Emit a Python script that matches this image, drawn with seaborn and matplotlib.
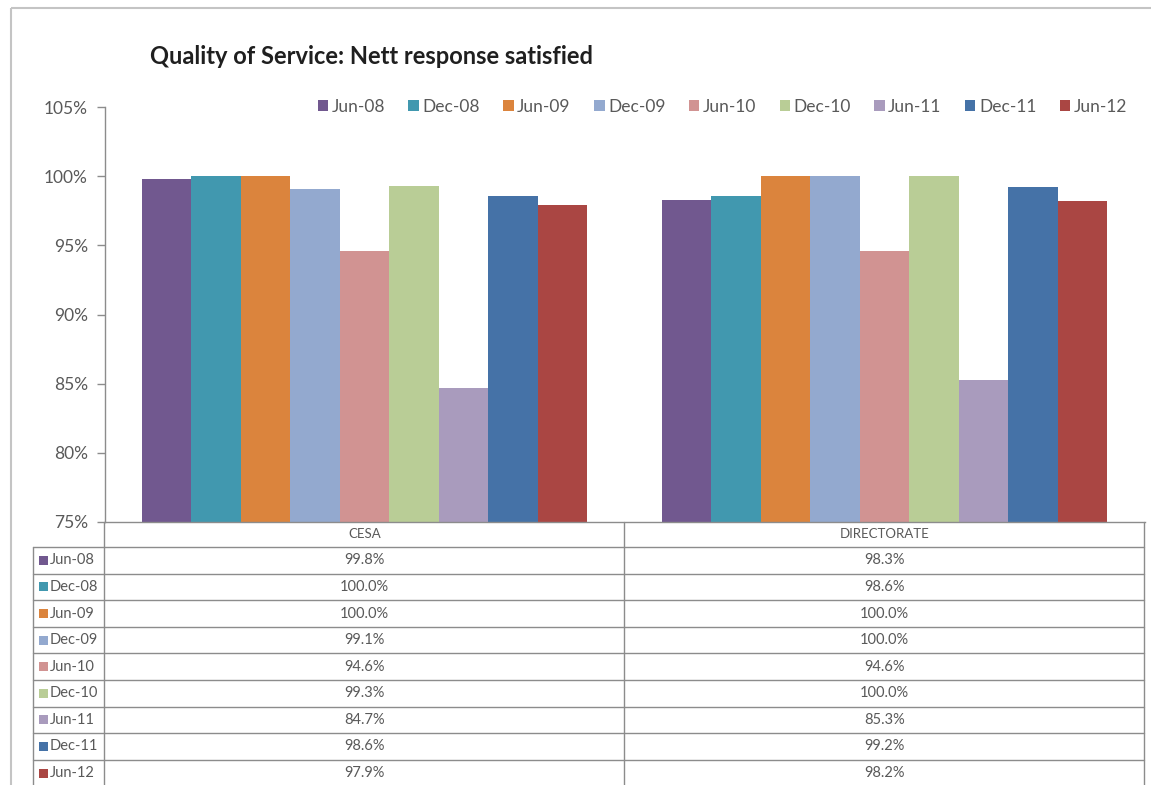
import matplotlib
matplotlib.use("Agg")
import matplotlib.pyplot as plt
import matplotlib.transforms as mtransforms
from matplotlib.patches import Rectangle
from matplotlib.ticker import FuncFormatter
import pandas as pd
import seaborn as sns

# ---- data -------------------------------------------------------------
units = ["CESA", "DIRECTORATE"]
periods = ["Jun-08", "Dec-08", "Jun-09", "Dec-09", "Jun-10",
           "Dec-10", "Jun-11", "Dec-11", "Jun-12"]
cesa_values = [99.8, 100.0, 100.0, 99.1, 94.6, 99.3, 84.7, 98.6, 97.9]
directorate_values = [98.3, 98.6, 100.0, 100.0, 94.6, 100.0, 85.3, 99.2, 98.2]
period_colors = ["#71588F", "#4198AF", "#DB843D", "#93A9CF", "#D19392",
                 "#B9CD96", "#A99BBD", "#4572A7", "#AA4643"]
y_ticks = [75, 80, 85, 90, 95, 100, 105]
title = "Quality of Service: Nett response satisfied"

df = pd.DataFrame({
    "unit": [u for u in units for _ in periods],
    "period": periods * len(units),
    "value": cesa_values + directorate_values,
})
table_values = {"CESA": cesa_values, "DIRECTORATE": directorate_values}

# ---- figure -----------------------------------------------------------
sns.set_theme(style="white")
plt.rcParams["font.family"] = ["Lato", "DejaVu Sans"]

W, H = 1151, 785
fig = plt.figure(figsize=(W / 100, H / 100), dpi=100, facecolor="white")

grid_col = "#8c8c8c"
text_col = "#595959"

# plot area in pixel units
left, right, top, bottom = 104.5, 1144.5, 107, 522
ax = fig.add_axes([left / W, 1 - bottom / H, (right - left) / W, (bottom - top) / H])

sns.barplot(data=df, x="unit", y="value", hue="period", order=units,
            hue_order=periods, palette=period_colors, saturation=1,
            width=0.856, linewidth=0, errorbar=None, ax=ax)

ax.set_xlim(-0.5, len(units) - 0.5)
ax.set_ylim(y_ticks[0], y_ticks[-1])
ax.set_yticks(y_ticks)
ax.yaxis.set_major_formatter(FuncFormatter(lambda v, _: f"{v:.0f}%"))
ax.tick_params(axis="y", which="major", direction="out", length=6, width=1,
               color=grid_col, labelsize=12.5, labelcolor=text_col, pad=6, left=True)
ax.tick_params(axis="x", bottom=False, labelbottom=False)
ax.set_xlabel("")
ax.set_ylabel("")
for s in ("top", "right"):
    ax.spines[s].set_visible(False)
for s in ("left", "bottom"):
    ax.spines[s].set_color(grid_col)
    ax.spines[s].set_linewidth(1)

handles, labels = ax.get_legend_handles_labels()
legend_right = 1127
ax.legend(handles, labels, ncol=len(periods), loc="center right",
          bbox_to_anchor=((legend_right - left) / (right - left), 1.0),
          bbox_transform=ax.transAxes, frameon=False, fontsize=12.5,
          handlelength=0.6, handleheight=0.6, handletextpad=0.2,
          columnspacing=1.35, labelcolor=text_col, borderaxespad=0,
          borderpad=0)

# ---- overlay in pixel coordinates (frame, title, data table) ----------
ov = fig.add_axes([0, 0, 1, 1], facecolor="none")
ov.set_xlim(0, W)
ov.set_ylim(H, 0)
ov.axis("off")

# chart frame
ov.plot([11, 11], [8, H], color="#c4c4c4", lw=1.5, solid_capstyle="butt")
ov.plot([11, W], [8, 8], color="#c4c4c4", lw=1.5, solid_capstyle="butt")

ov.text(150, 57, title, fontsize=17, fontweight="bold", color="#1f1f1f",
        ha="left", va="center")

# data table under the category axis
tbl_left = 33
header_bottom = 547
row_h = 26.6
n_rows = len(periods)
tbl_bottom = header_bottom + row_h * n_rows

ov.plot([left, left], [bottom, tbl_bottom], color=grid_col, lw=1)
ov.plot([tbl_left, tbl_left], [header_bottom, tbl_bottom], color=grid_col, lw=1)
ov.plot([right, right], [bottom, tbl_bottom], color=grid_col, lw=1)
mid = (left + right) / 2
ov.plot([mid, mid], [bottom, tbl_bottom], color=grid_col, lw=1)
for k in range(n_rows + 1):
    yk = header_bottom + k * row_h
    ov.plot([tbl_left, right], [yk, yk], color=grid_col, lw=1)

# column text positioned on the bar axis categories
col_tr = mtransforms.blended_transform_factory(ax.transData, ov.transData)
for ci, unit in enumerate(units):
    ov.text(ci, (bottom + header_bottom) / 2, unit, transform=col_tr,
            ha="center", va="center", fontsize=9.5, color=text_col)
    for ri, v in enumerate(table_values[unit]):
        ov.text(ci, header_bottom + row_h * (ri + 0.5), f"{v:.1f}%",
                transform=col_tr, ha="center", va="center",
                fontsize=10.5, color=text_col)

for ri, (p, c) in enumerate(zip(periods, period_colors)):
    yc = header_bottom + row_h * (ri + 0.5)
    ov.add_patch(Rectangle((39, yc - 4.5), 9, 9, color=c, lw=0))
    ov.text(50, yc, p, ha="left", va="center", fontsize=10.5, color=text_col)

fig.savefig("out.png", dpi=100, facecolor="white")
